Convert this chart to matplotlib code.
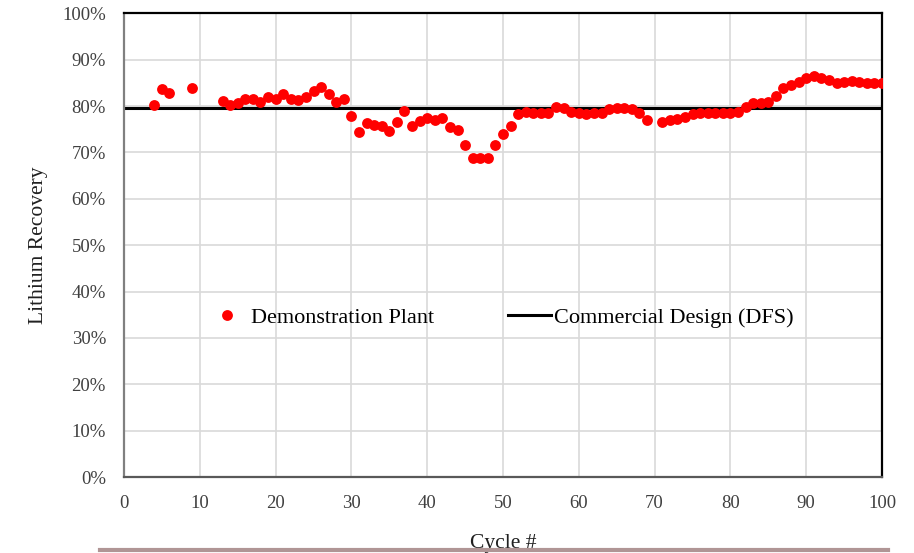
import matplotlib
matplotlib.use("Agg")
import matplotlib.pyplot as plt
from matplotlib.lines import Line2D

cycles = [4, 5, 6, 9, 13, 14, 15, 16, 17, 18, 19, 20, 21, 22, 23, 24, 25, 26, 27, 28, 29,
          30, 31, 32, 33, 34, 35, 36, 37, 38, 39, 40, 41, 42, 43, 44, 45, 46, 47, 48, 49,
          50, 51, 52, 53, 54, 55, 56, 57, 58, 59, 60, 61, 62, 63, 64, 65, 66, 67, 68, 69,
          71, 72, 73, 74, 75, 76, 77, 78, 79, 80, 81, 82, 83, 84, 85, 86, 87, 88, 89, 90,
          91, 92, 93, 94, 95, 96, 97, 98, 99, 100]
recovery = [80.3, 83.7, 82.9, 83.9, 81.0, 80.3, 80.7, 81.5, 81.6, 80.9, 82.0, 81.5, 82.5, 81.6, 81.3, 82.0, 83.3, 84.1, 82.6, 80.8, 81.6,
            77.9, 74.4, 76.4, 75.9, 75.7, 74.6, 76.6, 78.9, 75.7, 76.7, 77.4, 77.0, 77.5, 75.5, 74.9, 71.6, 68.8, 68.7, 68.9, 71.6,
            73.9, 75.7, 78.2, 78.8, 78.6, 78.5, 78.4, 79.7, 79.5, 78.8, 78.4, 78.2, 78.5, 78.6, 79.4, 79.6, 79.6, 79.4, 78.4, 76.9,
            76.5, 77.0, 77.3, 77.7, 78.2, 78.6, 78.5, 78.4, 78.6, 78.6, 78.7, 79.7, 80.6, 80.6, 80.8, 82.2, 83.8, 84.5, 85.2, 86.0,
            86.5, 86.0, 85.6, 85.0, 85.2, 85.4, 85.1, 84.9, 84.9, 85.0]
design_value = 79.5
series_names = ["Demonstration Plant", "Commercial Design (DFS)"]
x_ticks = list(range(0, 101, 10))
y_ticks = list(range(0, 101, 10))

plt.rcParams['font.family'] = ['Liberation Serif', 'DejaVu Serif']

fig = plt.figure(figsize=(9.14, 5.53), dpi=100)
ax = fig.add_axes([124/914, 1 - 477/553, 758/914, (477 - 13.3)/553])

ax.plot(cycles, recovery, linestyle='none', marker='o', markersize=7.8,
        color='#ff0000', markeredgewidth=0, label=series_names[0], zorder=3)
ax.axhline(design_value, color='black', linewidth=2.2, label=series_names[1], zorder=2)

ax.set_xlim(0, 100)
ax.set_ylim(0, 100)
ax.set_xticks(x_ticks)
ax.set_yticks(y_ticks)
ax.set_yticklabels([f"{v}%" for v in y_ticks])
ax.grid(True, color='#d9d9d9', linewidth=1.2)
ax.set_axisbelow(True)
ax.tick_params(axis='both', length=0, labelsize=13.5, colors='#404040', pad=13)

for s in ['top', 'right']:
    ax.spines[s].set_color('black')
    ax.spines[s].set_linewidth(1.6)
ax.spines['left'].set_color('#808080')
ax.spines['left'].set_linewidth(1.6)
ax.spines['bottom'].set_color('#595959')
ax.spines['bottom'].set_linewidth(1.6)

ax.set_ylabel("Lithium Recovery", fontsize=15.5, color='#202020', labelpad=10)
ax.set_xlabel("Cycle #", fontsize=15.5, color='#202020', labelpad=16)

ax.legend(loc='center', bbox_to_anchor=(0.495, 0.343), ncol=2, frameon=False,
          fontsize=16, numpoints=1, handlelength=1.95, handletextpad=0.12,
          columnspacing=3.3)

fig.add_artist(Line2D([100/914, 888/914], [1 - 550/553, 1 - 550/553],
                      transform=fig.transFigure, color='#b09595', linewidth=3))

fig.savefig("out.png", dpi=100, facecolor='white')
